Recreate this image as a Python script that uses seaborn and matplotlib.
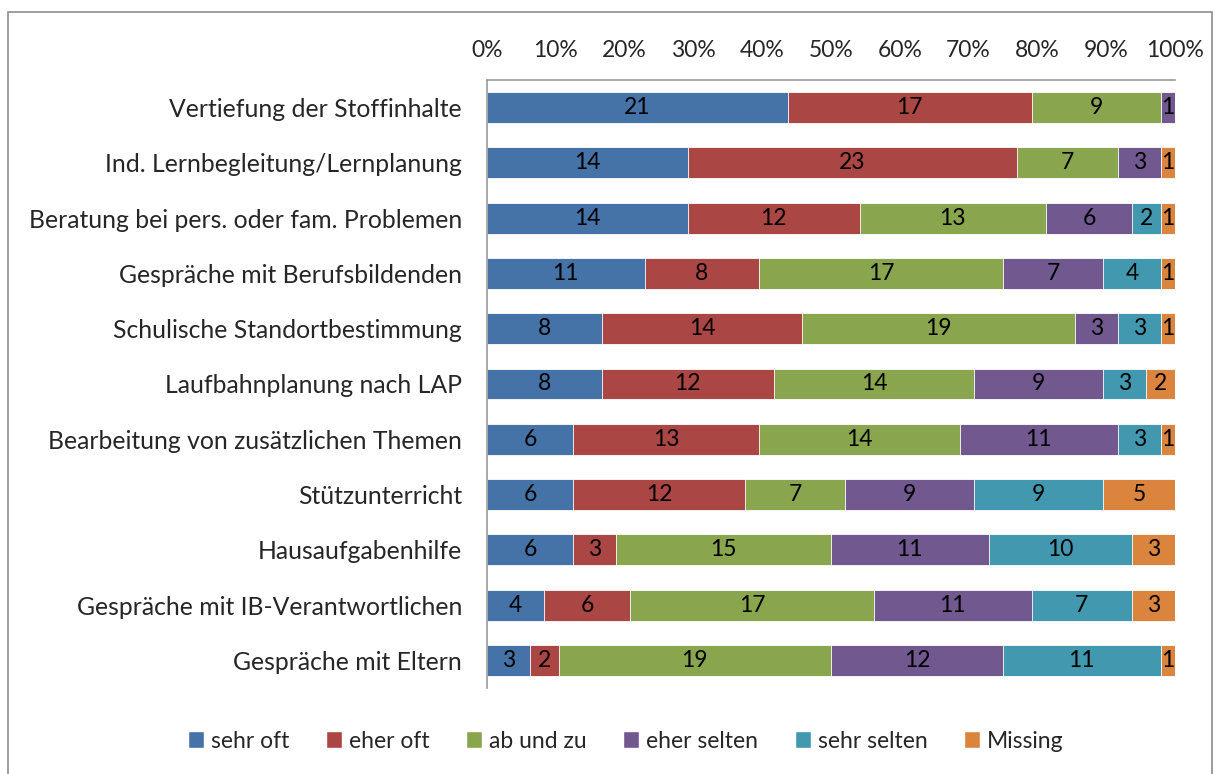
import numpy as np
import pandas as pd
import seaborn as sns
import matplotlib.pyplot as plt
from matplotlib.patches import Rectangle, Patch

# Data (counts per answer category, n = 48 per row)
topics = ["Vertiefung der Stoffinhalte",
          "Ind. Lernbegleitung/Lernplanung",
          "Beratung bei pers. oder fam. Problemen",
          "Gespräche mit Berufsbildenden",
          "Schulische Standortbestimmung",
          "Laufbahnplanung nach LAP",
          "Bearbeitung von zusätzlichen Themen",
          "Stützunterricht",
          "Hausaufgabenhilfe",
          "Gespräche mit IB-Verantwortlichen",
          "Gespräche mit Eltern"]
categories = ["sehr oft", "eher oft", "ab und zu", "eher selten", "sehr selten", "Missing"]
sehr_oft    = [21, 14, 14, 11, 8, 8, 6, 6, 6, 4, 3]
eher_oft    = [17, 23, 12, 8, 14, 12, 13, 12, 3, 6, 2]
ab_und_zu   = [9, 7, 13, 17, 19, 14, 14, 7, 15, 17, 19]
eher_selten = [1, 3, 6, 7, 3, 9, 11, 9, 11, 11, 12]
sehr_selten = [0, 0, 2, 4, 3, 3, 3, 9, 10, 7, 11]
missing     = [0, 1, 1, 1, 1, 2, 1, 5, 3, 3, 1]

colors = ["#4572A7", "#AA4643", "#89A54E", "#71588F", "#4198AF", "#DB843D"]

sns.set_style("white")
plt.rcParams['font.family'] = ['Lato', 'DejaVu Sans']
fs = 16.5

counts = np.array([sehr_oft, eher_oft, ab_und_zu, eher_selten, sehr_selten, missing], dtype=float)
pct = counts / counts.sum(axis=0) * 100
cum = np.cumsum(pct, axis=0)

fig = plt.figure(figsize=(12.2, 7.74), dpi=100)
ax = fig.add_axes([487/1220, 1-688/774, (1175-487)/1220, (688-80)/774])

# stacked bars: draw cumulative totals from the largest down
for i in range(len(categories)-1, -1, -1):
    df = pd.DataFrame({"topic": topics, "value": cum[i]})
    sns.barplot(data=df, x="value", y="topic", color=colors[i], orient="h",
                width=0.56, ax=ax, edgecolor="white", linewidth=0.6, saturation=1)

# segment labels
for i in range(len(categories)):
    for j in range(len(topics)):
        if counts[i, j] > 0:
            ax.text(cum[i, j] - pct[i, j] / 2, j, f"{int(counts[i, j])}",
                    ha="center", va="center", fontsize=fs, color="black")

ax.set_xlim(0, 100)
ax.set_ylim(len(topics) - 0.5, -0.5)
ax.set_xticks(np.arange(0, 101, 10))
ax.set_xticklabels([f"{t}%" for t in range(0, 101, 10)], fontsize=fs)
ax.xaxis.tick_top()
ax.tick_params(axis="x", length=0, pad=14)
ax.tick_params(axis="y", length=0, pad=18, labelsize=17.8)
ax.set_xlabel("")
ax.set_ylabel("")
for s in ["right", "bottom"]:
    ax.spines[s].set_visible(False)
for s in ["top", "left"]:
    ax.spines[s].set_color("#9a9a9a")
    ax.spines[s].set_linewidth(1.2)

handles = [Patch(facecolor=c, label=l) for c, l in zip(colors, categories)]
fig.legend(handles=handles, loc="center", bbox_to_anchor=(0.513, 1-741/774), ncol=6,
           frameon=False, fontsize=fs, handlelength=0.7, handleheight=0.7,
           handletextpad=0.3, columnspacing=1.6)

fig.patches.append(Rectangle((8/1220, -0.01), 1204/1220, 1 - 12/774 + 0.01,
                             transform=fig.transFigure, fill=False,
                             edgecolor="#8c8c8c", linewidth=1.2))

fig.savefig("out.png", dpi=100)
